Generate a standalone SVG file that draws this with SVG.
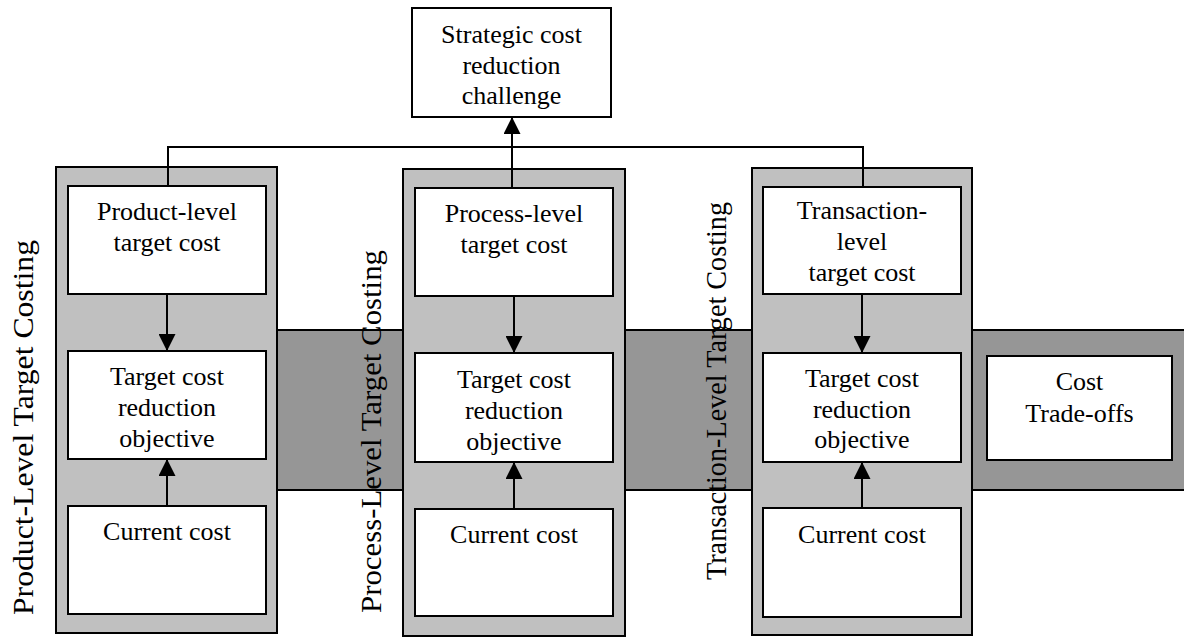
<svg xmlns="http://www.w3.org/2000/svg" width="1184" height="637" viewBox="0 0 1184 637">
  <style>
    .panel { fill: #c0c0c0; stroke: #000; stroke-width: 2; }
    .band { fill: #969696; stroke: #000; stroke-width: 2; }
    .box { fill: #fff; stroke: #000; stroke-width: 2; }
    text { font-family: "Liberation Serif", "Times New Roman", "DejaVu Serif", serif; fill: #000; }
    .t { font-size: 26px; text-anchor: middle; }
    .lbl { font-size: 29px; }
    .conn { fill: none; stroke: #000; stroke-width: 2; }
  </style>
  <defs>
    <marker id="ah" viewBox="0 0 17 17" refX="17" refY="8.5" markerWidth="17" markerHeight="17" markerUnits="userSpaceOnUse" orient="auto">
      <path d="M0,0 L17,8.5 L0,17 z" fill="#000"/>
    </marker>
  </defs>
  <rect width="1184" height="637" fill="#fff"/>

  <g id="band">
    <rect class="band" x="200" y="330" width="990" height="160"/>
  </g>

  <g id="panel-product">
    <rect class="panel" x="56" y="167" width="221" height="466"/>
  </g>
  <g id="panel-process">
    <rect class="panel" x="403" y="169" width="222" height="467"/>
  </g>
  <g id="panel-transaction">
    <rect class="panel" x="752" y="168" width="220" height="467"/>
  </g>

  <g id="label-product">
    <text class="lbl" transform="translate(33,615) rotate(-90)" textLength="375" lengthAdjust="spacingAndGlyphs">Product-Level Target Costing</text>
  </g>
  <g id="label-process">
    <text class="lbl" transform="translate(381,613) rotate(-90)" textLength="363" lengthAdjust="spacingAndGlyphs">Process-Level Target Costing</text>
  </g>
  <g id="label-transaction">
    <text class="lbl" transform="translate(726,580) rotate(-90)" textLength="378" lengthAdjust="spacingAndGlyphs">Transaction-Level Target Costing</text>
  </g>

  <g id="strategic">
    <rect class="box" x="412" y="8" width="199" height="109"/>
    <text class="t" x="511.5" y="43">Strategic cost</text>
    <text class="t" x="511.5" y="74">reduction</text>
    <text class="t" x="511.5" y="104">challenge</text>
  </g>

  <g id="product-target">
    <rect class="box" x="68" y="186" width="198" height="108"/>
    <text class="t" x="167" y="220">Product-level</text>
    <text class="t" x="167" y="251">target cost</text>
  </g>
  <g id="product-objective">
    <rect class="box" x="68" y="351" width="198" height="108"/>
    <text class="t" x="167" y="385">Target cost</text>
    <text class="t" x="167" y="416">reduction</text>
    <text class="t" x="167" y="447">objective</text>
  </g>
  <g id="product-current">
    <rect class="box" x="68" y="506" width="198" height="108"/>
    <text class="t" x="167" y="540">Current cost</text>
  </g>

  <g id="process-target">
    <rect class="box" x="415" y="188" width="198" height="108"/>
    <text class="t" x="514" y="222">Process-level</text>
    <text class="t" x="514" y="253">target cost</text>
  </g>
  <g id="process-objective">
    <rect class="box" x="415" y="353" width="198" height="109"/>
    <text class="t" x="514" y="388">Target cost</text>
    <text class="t" x="514" y="419">reduction</text>
    <text class="t" x="514" y="450">objective</text>
  </g>
  <g id="process-current">
    <rect class="box" x="415" y="509" width="198" height="107"/>
    <text class="t" x="514" y="543">Current cost</text>
  </g>

  <g id="transaction-target">
    <rect class="box" x="763" y="187" width="198" height="107"/>
    <text class="t" x="862" y="219">Transaction-</text>
    <text class="t" x="862" y="250">level</text>
    <text class="t" x="862" y="281">target cost</text>
  </g>
  <g id="transaction-objective">
    <rect class="box" x="763" y="353" width="198" height="109"/>
    <text class="t" x="862" y="387">Target cost</text>
    <text class="t" x="862" y="418">reduction</text>
    <text class="t" x="862" y="448">objective</text>
  </g>
  <g id="transaction-current">
    <rect class="box" x="763" y="508" width="198" height="109"/>
    <text class="t" x="862" y="543">Current cost</text>
  </g>

  <g id="tradeoffs">
    <rect class="box" x="987" y="356" width="185" height="104"/>
    <text class="t" x="1079.5" y="390">Cost</text>
    <text class="t" x="1079.5" y="422">Trade-offs</text>
  </g>

  <g id="connectors">
    <path class="conn" d="M168,186 V147 H863 V187"/>
    <path class="conn" d="M512,188 V117" marker-end="url(#ah)"/>
    <path class="conn" d="M167,294 V351" marker-end="url(#ah)"/>
    <path class="conn" d="M167,506 V459" marker-end="url(#ah)"/>
    <path class="conn" d="M514,296 V353" marker-end="url(#ah)"/>
    <path class="conn" d="M514,509 V462" marker-end="url(#ah)"/>
    <path class="conn" d="M862,294 V353" marker-end="url(#ah)"/>
    <path class="conn" d="M862,508 V462" marker-end="url(#ah)"/>
  </g>
</svg>
